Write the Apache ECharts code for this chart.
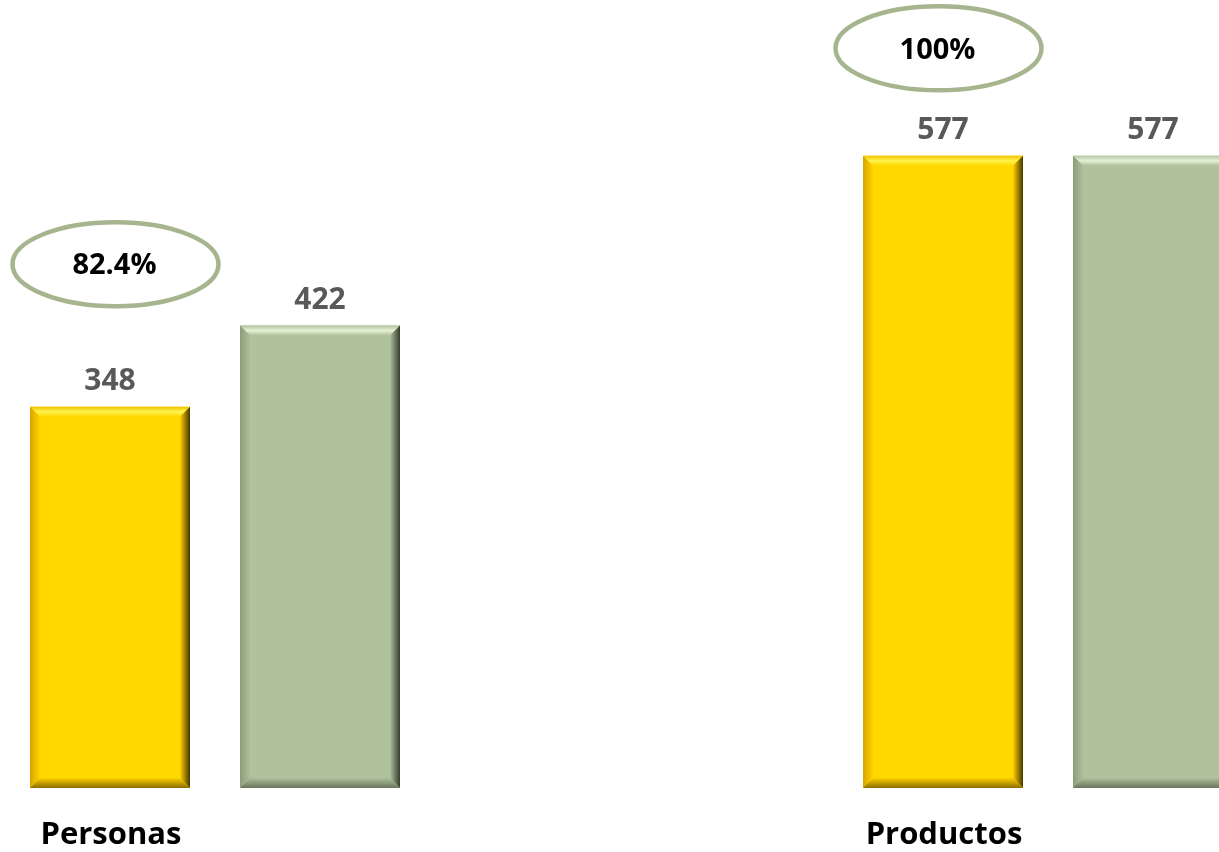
<!DOCTYPE html>
<html>
<head>
<meta charset="utf-8">
<style>
  html, body { margin: 0; padding: 0; background: #ffffff; }
  #chart { width: 1219px; height: 852px; }
</style>
<script src="https://cdn.jsdelivr.net/npm/echarts@6/dist/echarts.min.js"></script>
</head>
<body>
<div id="chart"></div>
<script>
// ---- data ----
const CATEGORIES = ['Personas', 'Productos'];
const SERIES_A = [348, 577];   // yellow bars
const SERIES_B = [422, 577];   // green bars
const PERCENT_LABELS = ['82.4%', '100%'];

// ---- layout / style constants ----
const BAR_W = 160;
const BAR_GAP = 50;
const BEVEL = 10;
const ANNOT_DX = [5.5, -4.5];     // ellipse offset from yellow bar centre (px)
const ANNOT_DY = [-142.5, -107.5]; // ellipse offset from yellow bar top (px)
const FONT = '"Open Sans", "Liberation Sans", sans-serif';

const PALETTES = [
  { base: '#FFD800', top: ['#F0C400', '#FFF34F', '#FFD800'], left: ['#D6A600', '#FFD200'], right: ['#FFD000', '#463800'], bottom: ['#FFD000', '#8A6E00'] },
  { base: '#B0C29D', top: ['#B5C5A2', '#E4F1D6', '#B0C29D'], left: ['#8D9D7A', '#ADBF9A'], right: ['#ADBF9A', '#363C2E'], bottom: ['#ADBF9A', '#6A765B'] }
];

function lin(x2, y2, stops) {
  return {
    type: 'linear', x: 0, y: 0, x2: x2, y2: y2,
    colorStops: stops.map((c, i) => ({ offset: stops.length === 1 ? 0 : i / (stops.length - 1), color: c }))
  };
}

function makeRender(seriesIdx) {
  const pal = PALETTES[seriesIdx];
  return function (params, api) {
    const ci = api.value(0);
    const val = api.value(1);
    const pTop = api.coord([ci, val]);
    const pBase = api.coord([ci, 0]);
    const cx = pTop[0] + (seriesIdx === 0 ? -1 : 1) * (BAR_W + BAR_GAP) / 2;
    const x0 = cx - BAR_W / 2, x1 = cx + BAR_W / 2;
    const y0 = pTop[1], y1 = pBase[1];
    const b = BEVEL;
    const children = [
      { type: 'rect', shape: { x: x0, y: y0, width: BAR_W, height: y1 - y0 }, style: { fill: pal.base } },
      { type: 'polygon', shape: { points: [[x0, y0], [x1, y0], [x1 - b, y0 + b], [x0 + b, y0 + b]] }, style: { fill: lin(0, 1, pal.top) } },
      { type: 'polygon', shape: { points: [[x0, y0], [x0 + b, y0 + b], [x0 + b, y1 - b], [x0, y1]] }, style: { fill: lin(1, 0, pal.left) } },
      { type: 'polygon', shape: { points: [[x1 - b, y0 + b], [x1, y0], [x1, y1], [x1 - b, y1 - b]] }, style: { fill: lin(1, 0, pal.right) } },
      { type: 'polygon', shape: { points: [[x0, y1], [x0 + b, y1 - b], [x1 - b, y1 - b], [x1, y1]] }, style: { fill: lin(0, 1, pal.bottom) } },
      { type: 'text', style: { text: String(val), x: cx, y: y0 - 25, align: 'center', verticalAlign: 'middle',
          font: 'bold 30px ' + FONT, fill: '#595959' } }
    ];
    if (seriesIdx === 0) {
      const ex = cx + ANNOT_DX[params.dataIndex];
      const ey = y0 + ANNOT_DY[params.dataIndex];
      children.push({ type: 'ellipse', shape: { cx: ex, cy: ey, rx: 103, ry: 42 },
        style: { fill: 'rgba(0,0,0,0)', stroke: '#A6B58E', lineWidth: 4.5 } });
      children.push({ type: 'text', style: { text: PERCENT_LABELS[params.dataIndex], x: ex - 1, y: ey + 2, align: 'center',
        verticalAlign: 'middle', font: 'bold 29px ' + FONT, fill: '#000000' } });
    }
    return { type: 'group', children: children };
  };
}

const chart = echarts.init(document.getElementById('chart'), null, { renderer: 'canvas' });
chart.setOption({
  backgroundColor: '#ffffff',
  animation: false,
  grid: { left: -201.5, right: -245.5, top: 21, bottom: 64, containLabel: false, outerBoundsMode: 'none' },
  xAxis: {
    type: 'category',
    data: CATEGORIES,
    axisLine: { show: false },
    axisTick: { show: false },
    splitLine: { show: false },
    axisLabel: {
      color: '#000000', fontSize: 31, fontWeight: 'bold', fontFamily: FONT,
      margin: 32, padding: [0, 208, 0, 0], interval: 0
    }
  },
  yAxis: { type: 'value', min: 0, max: 700, show: false, splitLine: { show: false } },
  series: [
    { type: 'custom', name: 'A', clip: false, renderItem: makeRender(0),
      encode: { x: 0, y: 1 }, data: SERIES_A.map((v, i) => [i, v]) },
    { type: 'custom', name: 'B', clip: false, renderItem: makeRender(1),
      encode: { x: 0, y: 1 }, data: SERIES_B.map((v, i) => [i, v]) }
  ]
});
</script>
</body>
</html>
